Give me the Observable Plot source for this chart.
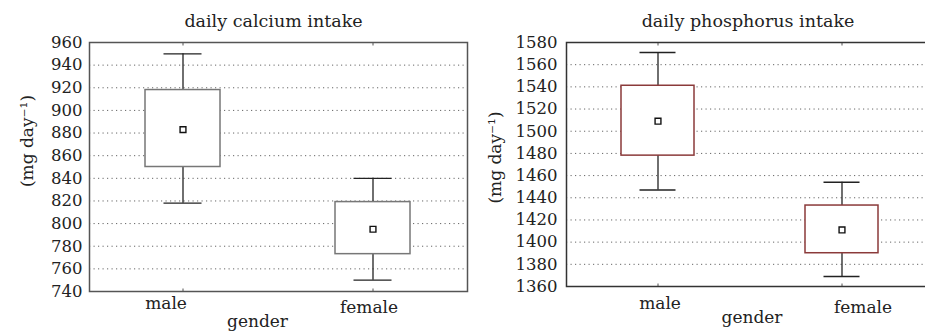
<!DOCTYPE html>
<html>
<head>
<meta charset="utf-8">
<script src="https://cdn.jsdelivr.net/npm/d3@7"></script>
<script src="https://cdn.jsdelivr.net/npm/@observablehq/plot@0.6"></script>
<style>
  html, body { margin: 0; padding: 0; background: #fff; overflow: hidden; }
  #wrap { display: flex; width: 925px; height: 331px; }
  svg { overflow: hidden !important; }
  svg, svg text { font-family: "DejaVu Serif", serif !important; }
</style>
</head>
<body>
<div id="wrap"></div>
<script>
// ---- data ----
const categories = ["male", "female"];

const caMin  = [818, 750];
const caQ1   = [850, 773];
const caMean = [883, 795];
const caQ3   = [918, 819];
const caMax  = [950, 840];
const caTicks = [740, 760, 780, 800, 820, 840, 860, 880, 900, 920, 940, 960];

const pMin  = [1447, 1369];
const pQ1   = [1478, 1390];
const pMean = [1509, 1411];
const pQ3   = [1541, 1433];
const pMax  = [1571, 1454];
const pTicks = [1360, 1380, 1400, 1420, 1440, 1460, 1480, 1500, 1520, 1540, 1560, 1580];

const titles = ["daily calcium intake", "daily phosphorus intake"];
const yLabel = "(mg day\u207B\u00B9)";
const xLabel = "gender";

function rows(mn, q1, mean, q3, mx) {
  return categories.map((c, i) => ({cat: c, min: mn[i], q1: q1[i], mean: mean[i], q3: q3[i], max: mx[i]}));
}

function panel(opt) {
  const data = rows(...opt.values);
  const ff = "DejaVu Serif";
  return Plot.plot({
    width: opt.width,
    height: 331,
    marginLeft: opt.ml,
    marginRight: opt.mr,
    marginTop: 42,
    marginBottom: opt.mb,
    style: {fontFamily: "'DejaVu Serif', serif", fontSize: "16px", color: "#222", background: "#fff"},
    x: {type: "band", domain: categories, paddingInner: 0.605, paddingOuter: 0.297, axis: null},
    y: {domain: opt.domain, ticks: opt.ticks, axis: null},
    marks: [
      Plot.gridY(opt.ticks, {stroke: "#666", strokeOpacity: 1, strokeWidth: 1, strokeDasharray: "1.2,3.3"}),
      Plot.axisY(opt.ticks, {anchor: "left", tickSize: 0, tickPadding: opt.tp, tickFormat: d => String(d), label: null, fontSize: 16.5, fontFamily: ff, fill: "#222"}),
      Plot.axisX(categories, {anchor: "bottom", tickSize: 2.5, dy: -2.5, tickFormat: () => "", label: null, stroke: "#555"}),
      Plot.axisX(categories, {anchor: "top", tickSize: 2.5, dy: 2.5, tickFormat: () => "", label: null, stroke: "#555"}),
      Plot.axisX(["male"], {anchor: "bottom", tickSize: 0, tickPadding: opt.xpad[0], dx: opt.xdx[0], label: null, fontSize: 17, fontFamily: ff, fill: "#222"}),
      Plot.axisX(["female"], {anchor: "bottom", tickSize: 0, tickPadding: opt.xpad[1], dx: opt.xdx[1], label: null, fontSize: 17, fontFamily: ff, fill: "#222"}),
      Plot.ruleX(data, {x: "cat", y1: "min", y2: "max", stroke: "#222", strokeWidth: 1.3}),
      Plot.tickY(data, {x: "cat", y: "min", stroke: "#222", strokeWidth: 1.3, insetLeft: 18.5, insetRight: 18.5}),
      Plot.tickY(data, {x: "cat", y: "max", stroke: "#222", strokeWidth: 1.3, insetLeft: 18.5, insetRight: 18.5}),
      Plot.barY(data, {x: "cat", y1: "q1", y2: "q3", fill: "#fff", stroke: opt.boxColor, strokeWidth: 1.5}),
      Plot.dot(data, {x: "cat", y: "mean", symbol: "square", r: 3.3, fill: "#fff", stroke: "#111", strokeWidth: 1.4}),
      Plot.frame({stroke: opt.frameColor, strokeWidth: 1.5}),
      Plot.text([opt.title], {frameAnchor: "top", lineAnchor: "middle", textAnchor: "middle", dx: opt.tdx, dy: -21, fontSize: 17.5, fontFamily: ff, fill: "#222"}),
      Plot.text([xLabel], {frameAnchor: "bottom", lineAnchor: "middle", textAnchor: "middle", dx: opt.gdx, dy: opt.gdy, fontSize: 17, fontFamily: ff, fill: "#222"}),
      Plot.text([yLabel], {frameAnchor: "left", lineAnchor: "middle", textAnchor: "middle", rotate: -90, dx: opt.ldx, dy: opt.ldy, fontSize: 17, fontFamily: ff, fill: "#222"})
    ]
  });
}

const wrap = document.getElementById("wrap");
wrap.appendChild(panel({
  values: [caMin, caQ1, caMean, caQ3, caMax],
  width: 470, ml: 89, mr: 3, mb: 40,
  domain: [740, 960], ticks: caTicks, tp: 7,
  xpad: [5, 9], xdx: [-17, -4],
  boxColor: "#777", frameColor: "#555",
  title: titles[0], tdx: -5, gdx: -21, gdy: 30.5, ldx: -62, ldy: -26
}));
wrap.appendChild(panel({
  values: [pMin, pQ1, pMean, pQ3, pMax],
  width: 455, ml: 96, mr: -8, mb: 45,
  domain: [1360, 1580], ticks: pTicks, tp: 9,
  xpad: [10, 14], xdx: [2, 21],
  boxColor: "#8b3a3a", frameColor: "#333",
  title: titles[1], tdx: -2, gdx: 2, gdy: 31.5, ldx: -71, ldy: -7
}));
</script>
</body>
</html>
